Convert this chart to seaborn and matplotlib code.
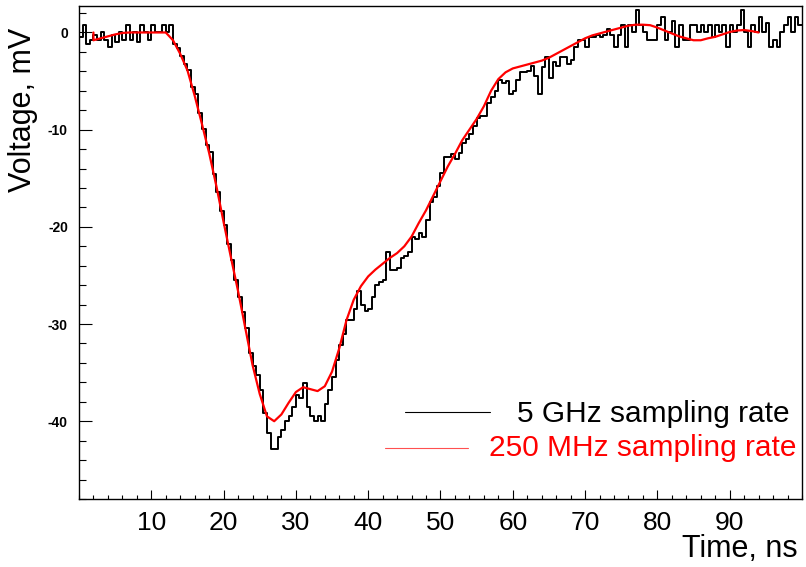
import numpy as np
import pandas as pd
import seaborn as sns
import matplotlib.pyplot as plt
from matplotlib.ticker import MultipleLocator, FixedLocator

# 5 GHz trace in 0.5 ns bins (mV)
bin_width = 0.5
fast_mv = [
    -0.5, 0.8, -1.2, -0.8, -0.3, -0.8, 0.0, -0.8, -1.5, -0.3,
    -1.0, 0.0, -0.8, 0.8, -0.8, 0.0, -1.0, 0.8, 0.0, -0.8,
    0.8, 0.0, 0.0, 0.8, 0.0, 0.8, -1.2, -1.6, -2.4, -3.2,
    -3.9, -5.6, -6.3, -8.3, -9.9, -11.6, -12.3, -14.6, -16.4, -18.4,
    -19.8, -21.8, -23.4, -25.5, -27.2, -28.8, -30.4, -33.0, -34.3, -35.2,
    -36.8, -39.2, -41.2, -42.9, -42.9, -41.6, -40.9, -40.0, -39.5, -38.5,
    -37.3, -37.6, -36.1, -38.5, -39.5, -40.0, -39.5, -40.0, -38.2, -36.8,
    -35.5, -33.7, -32.2, -31.0, -29.6, -29.6, -28.5, -26.6, -28.0, -28.7,
    -28.5, -27.2, -26.0, -25.7, -25.5, -22.6, -24.4, -24.4, -24.2, -23.2,
    -23.0, -22.6, -21.0, -21.3, -20.6, -21.0, -19.3, -17.4, -16.9, -15.8,
    -14.5, -12.8, -12.8, -12.5, -13.0, -12.4, -11.4, -11.0, -10.4, -9.6,
    -8.8, -8.6, -8.6, -7.3, -6.6, -6.0, -4.9, -5.2, -5.0, -6.3,
    -6.0, -4.9, -4.1, -4.1, -4.0, -3.4, -4.5, -6.3, -3.6, -2.5,
    -4.7, -3.0, -3.5, -2.5, -2.5, -3.2, -2.8, -1.5, -0.8, -0.8,
    -1.5, -0.45, -0.45, -0.3, -0.45, -0.3, 0.4, -0.3, -1.5, -0.3,
    0.75, -1.5, 0.75, 0.0, 2.3, 0.75, 0.0, -0.8, -0.8, -0.8,
    0.75, 1.6, -0.8, 0.0, 1.2, -1.5, 0.8, -0.8, -0.8, 0.75,
    0.75, 0.0, 0.75, 0.0, 0.75, -0.5, 0.75, 0.0, 0.75, -1.5,
    0.75, 0.0, 0.75, 2.3, 0.0, -1.5, 0.75, 0.0, 1.6, 0.0,
    1.0, -1.5, -0.8, -1.5, 0.0, 0.75, 1.6, 0.0, 1.6, 0.75,
]

# 250 MHz reconstruction, read at 1 ns steps (mV)
slow_ns = [2, 2] + list(range(3, 95))
slow_mv = [
    0.0, -0.8, -0.6, -0.4, -0.2, -0.05, 0.0, 0.0, 0.0, 0.0, 0.0, 0.0,
    -0.8, -2.2, -3.9, -6.5, -9.4, -12.4, -15.8, -19.5, -23.1, -26.6,
    -30.4, -34.2, -37.2, -39.5, -40.0, -39.3, -38.1, -37.0, -36.5, -36.7,
    -36.9, -36.4, -34.9, -32.5, -29.6, -27.5, -26.1, -25.1, -24.4, -23.8,
    -23.2, -22.7, -22.0, -21.0, -19.6, -18.3, -16.8, -15.3, -13.8, -12.5,
    -11.1, -10.0, -8.9, -7.6, -6.0, -4.8, -4.1, -3.7, -3.5, -3.3,
    -3.1, -2.9, -2.6, -2.2, -1.8, -1.4, -1.0, -0.6, -0.3, -0.1,
    0.1, 0.3, 0.5, 0.7, 0.8, 0.8, 0.75, 0.5, 0.2, -0.1,
    -0.4, -0.6, -0.8, -0.8, -0.6, -0.45, -0.2, 0.05, 0.2, 0.25,
    0.15, 0.0,
]

x_ticks = [10, 20, 30, 40, 50, 60, 70, 80, 90]
y_ticks = [-40, -30, -20, -10, 0]
labels = ["5 GHz sampling rate", "250 MHz sampling rate"]

fast = pd.DataFrame({
    "t": np.arange(len(fast_mv) + 1) * bin_width,
    "v": fast_mv + fast_mv[-1:],
})
slow = pd.DataFrame({"t": slow_ns, "v": slow_mv})

sns.set_style("ticks")
plt.rcParams["font.family"] = ["Liberation Sans", "DejaVu Sans"]
plt.rcParams["axes.unicode_minus"] = False
plt.rcParams["text.color"] = "black"
plt.rcParams["axes.labelcolor"] = "black"
plt.rcParams["xtick.color"] = "black"
plt.rcParams["ytick.color"] = "black"

fig = plt.figure(figsize=(8.06, 5.67), dpi=100)
ax = fig.add_axes([0.098, 0.12, 0.897, 0.869])

sns.lineplot(data=fast, x="t", y="v", ax=ax, color="black", lw=1.4,
             drawstyle="steps-post", estimator=None, sort=False)
sns.lineplot(data=slow, x="t", y="v", ax=ax, color="red", lw=1.6,
             estimator=None, sort=False)

ax.set_xlim(0, 100)
ax.set_ylim(-48, 2.7)

ax.xaxis.set_major_locator(FixedLocator(x_ticks))
ax.xaxis.set_minor_locator(MultipleLocator(2))
ax.yaxis.set_major_locator(FixedLocator(y_ticks))
ax.yaxis.set_minor_locator(MultipleLocator(2))
ax.tick_params(axis="both", which="both", direction="in", top=False, right=False,
               width=0.8, color="black")
ax.tick_params(axis="x", which="major", length=6.5, labelsize=19, pad=9)
ax.tick_params(axis="x", which="minor", length=3.2)
ax.tick_params(axis="y", which="major", length=9.5, labelsize=10, pad=8)
ax.tick_params(axis="y", which="minor", length=5)
for lab in ax.get_yticklabels():
    lab.set_fontweight("bold")

for sp in ax.spines.values():
    sp.set_linewidth(1.0)
    sp.set_color("black")

ax.set_xlabel("Time, ns", fontsize=22, loc="right")
ax.xaxis.set_label_coords(0.9945, -0.072)
ax.xaxis.label.set_va("top")
ax.set_ylabel("Voltage, mV", fontsize=22, loc="top")
ax.yaxis.set_label_coords(-0.057, 0.956)

# legend drawn as plain lines + right-aligned text, like the ROOT one
ax.plot([0.451, 0.568], [0.177, 0.177], transform=ax.transAxes, color="black", lw=0.8)
ax.text(0.983, 0.157, labels[0], transform=ax.transAxes, ha="right", va="baseline",
        fontsize=21.5, color="black")
ax.plot([0.423, 0.538], [0.104, 0.104], transform=ax.transAxes, color="#ff5050", lw=0.8)
ax.text(0.992, 0.087, labels[1], transform=ax.transAxes, ha="right", va="baseline",
        fontsize=21.5, color="red")

fig.savefig("out.png", dpi=100)
